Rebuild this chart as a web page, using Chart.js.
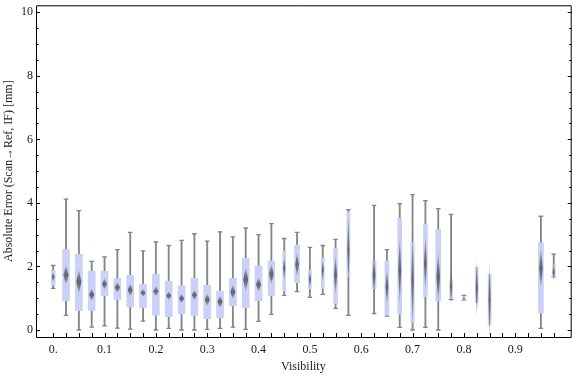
<!DOCTYPE html>
<html>
<head>
<meta charset="utf-8">
<script src="https://cdn.jsdelivr.net/npm/chart.js@4"></script>
<style>
  html, body { margin: 0; padding: 0; background: #fff; overflow: hidden; }
  canvas { display: block; }
</style>
</head>
<body>
<canvas id="chart" width="576" height="377"></canvas>
<script>
// visibility categories (missing ones have no data)
const visibility = [0, 0.025, 0.05, 0.075, 0.1, 0.125, 0.15, 0.175, 0.2, 0.225, 0.25, 0.275,
  0.3, 0.325, 0.35, 0.375, 0.4, 0.425, 0.45, 0.475, 0.5, 0.525, 0.55, 0.575,
  0.625, 0.65, 0.675, 0.7, 0.725, 0.75, 0.775, 0.8, 0.825, 0.85, 0.95, 0.975];

// box-whisker statistics, mm
const whiskerMax = [2.03, 4.12, 3.76, 2.16, 2.30, 2.53, 3.07, 2.49, 2.77, 2.66, 2.82, 3.03,
  2.80, 3.09, 2.93, 3.21, 3.00, 3.35, 2.88, 3.07, 2.60, 2.66, 2.85, 3.79,
  3.92, 2.53, 3.98, 4.26, 4.07, 3.82, 3.64, 1.09, null, null, 3.58, 2.39];
const q3 = [1.86, 2.53, 2.38, 1.85, 1.85, 1.62, 1.72, 1.44, 1.75, 1.54, 1.40, 1.63,
  1.41, 1.22, 1.63, 2.26, 2.01, 2.17, 2.48, 2.67, 1.88, 2.26, 2.56, 3.70,
  2.17, 2.17, 3.52, 2.76, 3.33, 3.16, 1.58, 1.05, 1.97, 1.75, 2.74, 2.04];
const medians = [1.67, 1.73, 1.52, 1.11, 1.45, 1.34, 1.26, 1.17, 1.22, 1.08, 0.99, 1.10,
  0.95, 0.89, 1.20, 1.59, 1.43, 1.76, 1.94, 2.06, 1.59, 1.88, 1.73, 2.51,
  1.73, 1.36, 1.88, 1.57, 2.09, 1.67, 1.38, 0.99, 1.32, 0.95, 1.94, 1.82];
const q1 = [1.41, 0.92, 0.61, 0.62, 1.08, 0.96, 0.73, 0.70, 0.47, 0.42, 0.51, 0.45,
  0.36, 0.39, 0.76, 0.70, 0.92, 1.08, 1.23, 1.49, 1.30, 1.32, 0.83, 1.67,
  1.30, 0.47, 0.51, 0.23, 1.05, 0.92, 0.99, 0.94, 0.87, 0.15, 0.54, 1.67];
const whiskerMin = [1.31, 0.46, 0.00, 0.09, 0.13, 0.06, 0.03, 0.28, 0.00, 0.05, 0.00, 0.00,
  0.02, 0.05, 0.09, 0.02, 0.27, 0.49, 1.09, 1.21, 1.03, 1.12, 0.68, 0.46,
  0.52, 0.44, 0.08, 0.00, 0.08, 0.00, 0.96, 0.93, null, null, 0.05, 1.67];
// half height of the median (notch) marker
const medianSpread = [0.16, 0.33, 0.40, 0.21, 0.19, 0.18, 0.21, 0.13, 0.17, 0.15, 0.16, 0.17,
  0.21, 0.21, 0.24, 0.40, 0.24, 0.34, 0.42, 0.40, 0.29, 0.37, 0.68, 1.20,
  0.65, 0.58, 1.15, 1.57, 0.89, 0.84, 0.65, 0.05, 0.97, 1.30, 0.68, 0.29];

const xTickValues = [0, 0.1, 0.2, 0.3, 0.4, 0.5, 0.6, 0.7, 0.8, 0.9];
const xTickLabels = ["0.", "0.1", "0.2", "0.3", "0.4", "0.5", "0.6", "0.7", "0.8", "0.9"];
const yTickValues = [0, 2, 4, 6, 8, 10];
const yTickLabels = ["0", "2", "4", "6", "8", "10"];

// style: box widths in px (narrower for sparse bins)
const boxPx = [4, 7, 7, 7, 7, 7, 7, 7, 7, 7, 7, 7, 7, 7, 7, 7, 7, 6.5,
  3, 5, 3, 3, 4, 3, 4, 4, 4, 3.5, 4, 5, 3, 3, 3, 3, 5, 3];

const BOX_FILL = "rgb(201, 209, 246)";
const WHISKER = "#858585";
const TEXT = "#1a1a1a";
const FONT = "'Liberation Serif', 'Times New Roman', serif";

// one dataset per box so each can have its own width
const boxDatasets = visibility.map((v, i) => ({
  type: "bar",
  data: [{ x: v, y: [q1[i], q3[i]] }],
  backgroundColor: BOX_FILL,
  barThickness: boxPx[i],
  grouped: false,
  order: 1,
}));

const whiskerIdx = visibility.map((v, i) => i).filter((i) => whiskerMax[i] !== null);

const whiskerDataset = {
  type: "bar",
  data: whiskerIdx.map((i) => ({ x: visibility[i], y: [whiskerMin[i], whiskerMax[i]] })),
  backgroundColor: WHISKER,
  barThickness: 1.2,
  grouped: false,
  order: 3,
};

const capDataset = {
  type: "line",
  showLine: false,
  data: whiskerIdx.flatMap((i) => [
    { x: visibility[i], y: whiskerMax[i] },
    { x: visibility[i], y: whiskerMin[i] },
  ]),
  pointStyle: "line",
  pointRadius: 2.3,
  pointBorderWidth: 1.3,
  pointBorderColor: WHISKER,
  order: 3,
};

// gradient diamond median markers
const medianMarks = {
  id: "medianMarks",
  afterDatasetsDraw(chart) {
    const { ctx, scales: { x, y } } = chart;
    ctx.save();
    visibility.forEach((v, i) => {
      const cx = x.getPixelForValue(v);
      const top = y.getPixelForValue(medians[i] + medianSpread[i]);
      const mid = y.getPixelForValue(medians[i]);
      const bot = y.getPixelForValue(medians[i] - medianSpread[i]);
      const half = boxPx[i] * 0.36;
      const g = ctx.createLinearGradient(0, top, 0, bot);
      g.addColorStop(0, "rgba(100,100,108,0)");
      g.addColorStop(0.3, "rgba(100,100,108,0.8)");
      g.addColorStop(0.5, "rgba(100,100,108,1)");
      g.addColorStop(0.7, "rgba(100,100,108,0.8)");
      g.addColorStop(1, "rgba(100,100,108,0)");
      ctx.fillStyle = g;
      ctx.beginPath();
      ctx.moveTo(cx, top);
      ctx.lineTo(cx + half, mid);
      ctx.lineTo(cx, bot);
      ctx.lineTo(cx - half, mid);
      ctx.closePath();
      ctx.fill();
    });
    ctx.restore();
  },
};

// frame, inward ticks and axis titles
const frame = {
  id: "frame",
  afterDraw(chart) {
    const { ctx, chartArea: a, scales: { x, y } } = chart;
    ctx.save();
    ctx.strokeStyle = "#000";
    ctx.lineWidth = 1;
    ctx.beginPath();
    ctx.rect(a.left + 0.5, a.top + 0.5, a.right - a.left, a.bottom - a.top);
    ctx.stroke();

    ctx.beginPath();
    for (let k = 0; k <= 20; k++) {
      const py = Math.round(y.getPixelForValue(k / 2)) + 0.5;
      const len = k % 4 === 0 ? 4 : 2.5;
      ctx.moveTo(a.left, py);
      ctx.lineTo(a.left + len, py);
      ctx.moveTo(a.right + 1, py);
      ctx.lineTo(a.right + 1 - len, py);
    }
    for (let k = 0; k < 40; k++) {
      const px = Math.round(x.getPixelForValue(k * 0.025)) + 0.5;
      ctx.moveTo(px, a.bottom);
      ctx.lineTo(px, a.bottom - 4);
    }
    ctx.stroke();

    ctx.fillStyle = TEXT;
    ctx.font = "12px " + FONT;
    ctx.textAlign = "center";
    ctx.textBaseline = "middle";
    ctx.fillText("Visibility", (a.left + a.right) / 2, 367);
    ctx.translate(9, (a.top + a.bottom) / 2);
    ctx.rotate(-Math.PI / 2);
    ctx.fillText("Absolute Error (Scan\u2192Ref, IF) [mm]", 0, 0);
    ctx.restore();
  },
};

new Chart(document.getElementById("chart"), {
  type: "bar",
  data: { datasets: [...boxDatasets, whiskerDataset, capDataset] },
  options: {
    responsive: false,
    animation: false,
    devicePixelRatio: 1,
    layout: { padding: { top: 4, right: 1, left: 0, bottom: 0 } },
    plugins: { legend: { display: false }, tooltip: { enabled: false } },
    scales: {
      x: {
        type: "linear",
        min: -0.0335,
        max: 1.008,
        offset: false,
        grid: { display: false, drawTicks: false },
        border: { display: false },
        ticks: {
          color: TEXT,
          font: { family: FONT, size: 12 },
          padding: 6,
          maxRotation: 0,
          autoSkip: false,
          callback: (val, idx) => xTickLabels[idx],
        },
        afterBuildTicks: (s) => { s.ticks = xTickValues.map((v) => ({ value: v })); },
        afterFit: (s) => { s.height = 40; s.paddingLeft = 0; s.paddingRight = 0; },
      },
      y: {
        type: "linear",
        min: -0.22,
        max: 10.22,
        grid: { display: false, drawTicks: false },
        border: { display: false },
        ticks: {
          color: TEXT,
          font: { family: FONT, size: 12 },
          padding: 3,
          callback: (val, idx) => yTickLabels[idx],
        },
        afterBuildTicks: (s) => { s.ticks = yTickValues.map((v) => ({ value: v })); },
        afterFit: (s) => { s.width = 36; s.paddingTop = 0; s.paddingBottom = 0; },
      },
    },
  },
  plugins: [medianMarks, frame],
});
</script>
</body>
</html>
